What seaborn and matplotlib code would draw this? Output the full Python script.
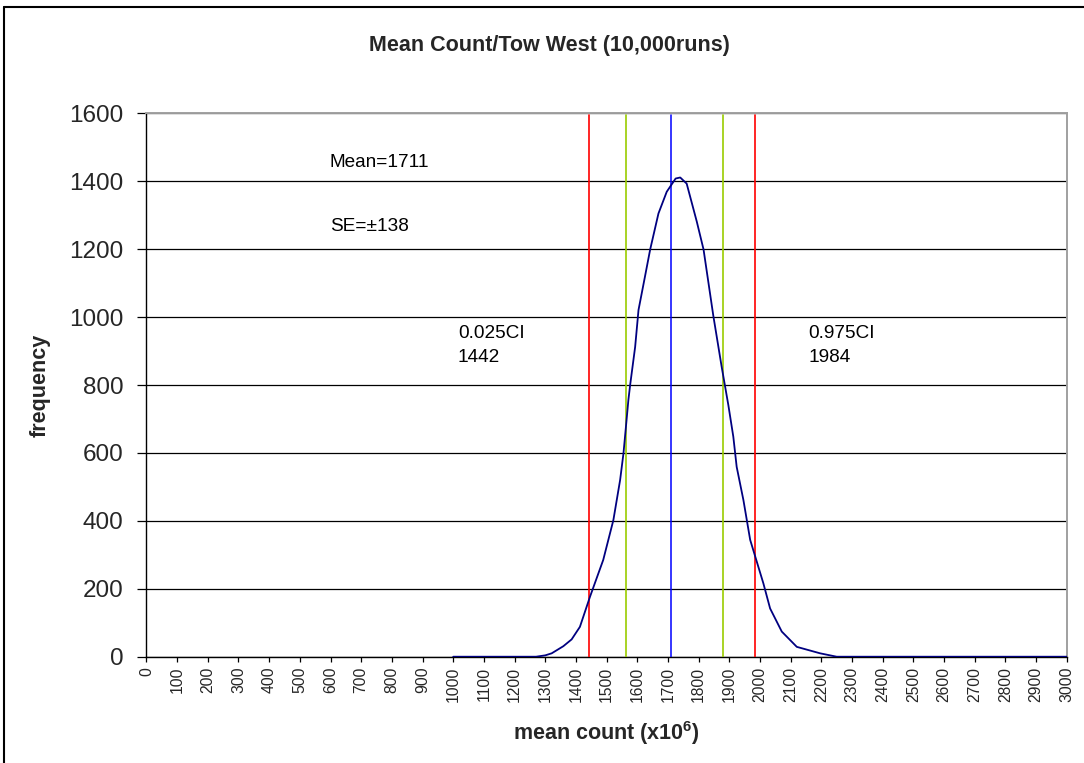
import matplotlib
matplotlib.use("Agg")
import matplotlib.pyplot as plt
import seaborn as sns
from matplotlib.lines import Line2D

# Simulated mean counts (x10^6) and their frequencies over 10,000 runs
mean_count = [1000, 1270, 1300, 1321, 1359, 1386, 1413, 1446, 1489, 1522,
              1544, 1555, 1563, 1571, 1577, 1593, 1604, 1625, 1642, 1669,
              1696, 1725, 1740, 1761, 1794, 1816, 1848, 1875, 1897, 1913,
              1924, 1946, 1968, 2011, 2033, 2071, 2120, 2196, 2250, 3000]
frequency = [0, 0, 4, 10, 31, 51, 88, 177, 285, 402,
             520, 599, 677, 756, 802, 912, 1021, 1119, 1199, 1305,
             1369, 1408, 1411, 1393, 1281, 1199, 1003, 854, 740, 648,
             559, 461, 344, 216, 142, 74, 29, 10, 0, 0]

# Summary statistics
mean_value = 1711
se_value = 138
ci_low = 1442
ci_high = 1984
se_band = [1563, 1879]

x_ticks = list(range(0, 3001, 100))
y_ticks = list(range(0, 1601, 200))

sns.set_theme(style="white")
plt.rcParams["font.family"] = ["Liberation Sans", "DejaVu Sans"]
plt.rcParams["mathtext.fontset"] = "custom"
plt.rcParams["mathtext.rm"] = "Liberation Sans"
plt.rcParams["mathtext.bf"] = "Liberation Sans:bold"

fig = plt.figure(figsize=(10.84, 7.63), dpi=100)
ax = fig.add_axes([0.1351, 0.1393, 0.849, 0.7122])
ax.set_axisbelow(True)

sns.lineplot(x=mean_count, y=frequency, ax=ax, color="#000080",
             linewidth=1.3, zorder=4)

for xv in (ci_low, ci_high):
    ax.axvline(xv, ymin=0, ymax=0.997, color="#FF0000", linewidth=1.2, zorder=3)
for xv in se_band:
    ax.axvline(xv, ymin=0, ymax=0.997, color="#99CC00", linewidth=1.2, zorder=3)
ax.axvline(mean_value, ymin=0, ymax=0.997, color="#0000FF", linewidth=1.1, zorder=3)

ax.set_xlim(0, 3000)
ax.set_ylim(0, 1600)
ax.set_xticks(x_ticks)
ax.set_xticklabels([str(t) for t in x_ticks], rotation=90, fontsize=11.3)
ax.set_yticks(y_ticks)
ax.set_yticklabels([str(t) for t in y_ticks], fontsize=17.5)
ax.yaxis.grid(True, color="black", linewidth=0.9)
ax.xaxis.grid(False)
ax.tick_params(axis="y", direction="out", length=6.5, width=0.9,
               color="black", pad=10, left=True)
ax.tick_params(axis="x", direction="out", length=3.6, width=0.9,
               color="black", pad=3.6, bottom=True)
ax.set_xlabel("")
ax.set_ylabel("")

for side in ("left", "bottom"):
    ax.spines[side].set_color("black")
    ax.spines[side].set_linewidth(1.0)
for side in ("top", "right"):
    ax.spines[side].set_color("#A0A0A0")
    ax.spines[side].set_linewidth(1.4)

txt = dict(fontsize=13.7, ha="left", va="center", color="black")
ax.text(598, 1454, f"Mean={mean_value}", **txt)
ax.text(598, 1268, f"SE=\u00b1{se_value}", **txt)
ax.text(1015, 952, "0.025CI", **txt)
ax.text(1015, 881, f"{ci_low}", **txt)
ax.text(2158, 952, "0.975CI", **txt)
ax.text(2158, 881, f"{ci_high}", **txt)

fig.text(549 / 1084, 1 - 46 / 763, "Mean Count/Tow West (10,000runs)",
         ha="center", va="center", fontsize=15.5, fontweight="bold")
fig.text(606.6 / 1084, 1 - 733 / 763, r"mean count (x10$^{\mathbf{6}}$)",
         ha="center", va="center", fontsize=15.5, fontweight="bold")
fig.text(40 / 1084, 1 - 385 / 763, "frequency", rotation=90,
         ha="center", va="center", fontsize=15.5, fontweight="bold")

# Chart-area frame
fig.add_artist(Line2D([3.5 / 1084, 3.5 / 1084], [0, 1 - 6.5 / 763],
                      transform=fig.transFigure, color="black", linewidth=1.5))
fig.add_artist(Line2D([3.5 / 1084, 1], [1 - 6.5 / 763, 1 - 6.5 / 763],
                      transform=fig.transFigure, color="black", linewidth=1.5))

fig.savefig("out.png", dpi=100)
